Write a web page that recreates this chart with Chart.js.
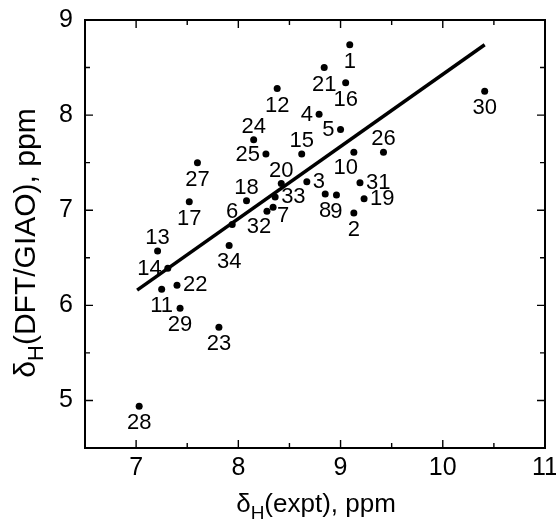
<!DOCTYPE html>
<html>
<head>
<meta charset="utf-8">
<script src="https://cdn.jsdelivr.net/npm/chart.js@4.4.0/dist/chart.umd.min.js"></script>
<style>
  html, body { margin: 0; padding: 0; background: #fff; }
</style>
</head>
<body>
<canvas id="myChart" width="556" height="521"></canvas>
<script>
// compound numbers and shifts
const ids = ['1','2','3','4','5','6','7','8','9','10','11','12','13','14','15','16','17',
  '18','19','20','21','22','23','24','25','26','27','28','29','30','31','32','33','34']
const exptShift = [9.09, 9.13, 8.67, 8.79, 9.00, 7.94, 8.34, 8.85, 8.96, 9.13, 7.25, 8.38,
  7.21, 7.31, 8.62, 9.05, 7.52, 8.08, 9.23, 8.42, 8.84, 7.40, 7.81, 8.15, 8.27, 9.42,
  7.60, 7.03, 7.43, 10.41, 9.19, 8.28, 8.36, 7.91]
const calcShift = [8.74, 6.97, 7.30, 8.01, 7.85, 6.85, 7.03, 7.17, 7.16, 7.61, 6.17, 8.28,
  6.57, 6.39, 7.59, 8.34, 7.09, 7.10, 7.12, 7.28, 8.50, 6.21, 5.77, 7.74, 7.59, 7.61,
  7.50, 4.94, 5.97, 8.25, 7.29, 6.99, 7.14, 6.63]
// fitted line ends
const fitX = [7.01, 10.41]
const fitY = [6.16, 8.74]
const xTicks = [7, 8, 9, 10, 11]
const yTicks = [5, 6, 7, 8, 9]

// where each number sits around its dot: b below, a above, l left, r right
const labelSide = ['b','b','r','l','l','a','br','b','b','bl','b','b','a','l','a','b','b',
  'a','r','a','b','r','b','a','l','a','b','b','b','b','r','bl','r','b']

const FONT = '"Liberation Sans", Arial, Helvetica, sans-serif'

const points = exptShift.map((x, i) => ({ x: x, y: calcShift[i] }))
const fitLine = fitX.map((x, i) => ({ x: x, y: fitY[i] }))

const frame = {
  id: 'frame',
  afterDatasetsDraw(chart) {
    const ctx = chart.ctx
    const a = chart.chartArea
    const xs = chart.scales.x, ys = chart.scales.y
    ctx.save()
    ctx.strokeStyle = '#000'
    ctx.lineWidth = 2
    ctx.strokeRect(a.left, a.top, a.right - a.left, a.bottom - a.top)
    ctx.lineWidth = 1.4
    ctx.beginPath()
    xs.ticks.forEach(t => {
      const px = xs.getPixelForValue(t.value)
      const len = Number.isInteger(t.value) ? 8 : 5
      ctx.moveTo(px, a.bottom); ctx.lineTo(px, a.bottom - len)
      ctx.moveTo(px, a.top); ctx.lineTo(px, a.top + len)
    })
    ys.ticks.forEach(t => {
      const py = ys.getPixelForValue(t.value)
      const len = Number.isInteger(t.value) ? 8 : 5
      ctx.moveTo(a.left, py); ctx.lineTo(a.left + len, py)
      ctx.moveTo(a.right, py); ctx.lineTo(a.right - len, py)
    })
    ctx.stroke()

    // numbers next to the dots
    const meta = chart.getDatasetMeta(1)
    ctx.fillStyle = '#000'
    ctx.font = '22px ' + FONT
    ctx.textAlign = 'center'
    ctx.textBaseline = 'middle'
    meta.data.forEach((el, i) => {
      const txt = ids[i]
      const w = ctx.measureText(txt).width
      let dx = 0, dy = 0
      switch (labelSide[i]) {
        case 'b': dy = 17; break
        case 'a': dy = -13; break
        case 'l': dx = -(w / 2 + 6); dy = 1; break
        case 'r': dx = w / 2 + 6; break
        case 'bl': dx = -8; dy = 16; break
        case 'br': dx = 10; dy = 9; break
      }
      ctx.fillText(txt, el.x + dx, el.y + dy)
    })

    // axis titles with subscript H
    drawTitle(ctx, (a.left + a.right) / 2 + 1, 512, 26, '(expt), ppm', 0)
    drawTitle(ctx, 35, 243, 30, '(DFT/GIAO), ppm', -Math.PI / 2)
    ctx.restore()
  }
}

function drawTitle(ctx, cx, cy, size, rest, angle) {
  ctx.save()
  ctx.translate(cx, cy)
  ctx.rotate(angle)
  ctx.textAlign = 'left'
  ctx.textBaseline = 'alphabetic'
  const big = size + 'px ' + FONT
  const small = Math.round(size * 0.72) + 'px ' + FONT
  ctx.font = big
  const w1 = ctx.measureText('\u03b4').width
  const w3 = ctx.measureText(rest).width
  ctx.font = small
  const w2 = ctx.measureText('H').width
  let x = -(w1 + w2 + w3) / 2
  ctx.font = big
  ctx.fillText('\u03b4', x, 0)
  x += w1
  ctx.font = small
  ctx.fillText('H', x, size * 0.28)
  x += w2
  ctx.font = big
  ctx.fillText(rest, x, 0)
  ctx.restore()
}

const ctx = document.getElementById('myChart').getContext('2d')
const myChart = new Chart(ctx, {
  type: 'scatter',
  data: {
    datasets: [{
      type: 'line',
      label: 'fit',
      data: fitLine,
      borderColor: '#000',
      borderWidth: 3.5,
      pointRadius: 0,
      fill: false
    }, {
      label: 'shifts',
      data: points,
      backgroundColor: '#000',
      borderWidth: 0,
      pointRadius: 3.5
    }]
  },
  options: {
    responsive: false,
    animation: false,
    devicePixelRatio: 1,
    layout: { padding: { top: 20, right: 11, left: 0, bottom: 0 } },
    plugins: {
      legend: { display: false },
      tooltip: { enabled: false }
    },
    scales: {
      x: {
        type: 'linear',
        min: 6.5,
        max: 11,
        afterFit: s => { s.height = 73; s.paddingLeft = 0; s.paddingRight = 0 },
        grid: { display: false, drawTicks: false },
        border: { display: false },
        ticks: {
          stepSize: 0.5,
          autoSkip: false,
          maxRotation: 0,
          padding: 5,
          color: '#000',
          font: { family: FONT, size: 25 },
          callback: v => xTicks.includes(v) ? String(v) : ''
        }
      },
      y: {
        type: 'linear',
        min: 4.5,
        max: 9,
        afterFit: s => { s.width = 85; s.paddingTop = 0; s.paddingBottom = 0 },
        grid: { display: false, drawTicks: false },
        border: { display: false },
        ticks: {
          stepSize: 0.5,
          autoSkip: false,
          padding: 12,
          color: '#000',
          font: { family: FONT, size: 25 },
          callback: v => yTicks.includes(v) ? String(v) : ''
        }
      }
    }
  },
  plugins: [frame]
})
</script>
</body>
</html>
